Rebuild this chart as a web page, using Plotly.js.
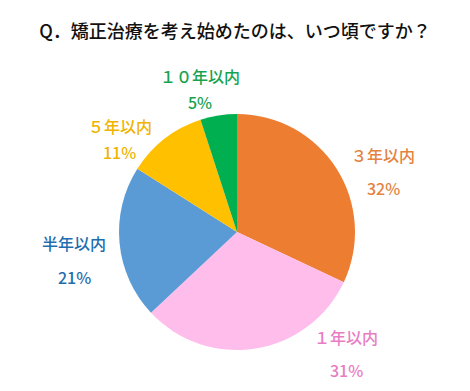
<!DOCTYPE html>
<html><head><meta charset="utf-8">
<script src="https://cdn.plot.ly/plotly-3.0.1.min.js"></script>
<style>html,body{margin:0;padding:0;background:#fff}</style>
</head><body>
<div id="chart" style="width:470px;height:391px"></div>
<script>
const categories = ["３年以内", "１年以内", "半年以内", "５年以内", "１０年以内"];
const values = [32, 31, 21, 11, 5];
const sliceColors = ["#ED7D31", "#FFBDEC", "#5B9BD5", "#FFC000", "#00B050"];
const textColors = ["#E3833F", "#E87DC4", "#1F6DAE", "#F0B400", "#16A34F"];
const labelPos = [[383, 155, 188], [346, 337, 370], [74, 243, 277], [120, 126, 152], [200, 76, 102]];

const W = 470, H = 391;
const annotations = [];
categories.forEach((c, i) => {
  const [x, y1, y2] = labelPos[i];
  const font = {family: "Noto Sans CJK JP", size: 16, color: textColors[i], weight: 500};
  annotations.push({text: c, x: x / W, y: 1 - y1 / H, xref: "paper", yref: "paper",
    xanchor: "center", yanchor: "middle", showarrow: false, font: font});
  annotations.push({text: values[i] + "%", x: x / W, y: 1 - y2 / H, xref: "paper", yref: "paper",
    xanchor: "center", yanchor: "middle", showarrow: false, font: font});
});

Plotly.newPlot("chart", [{
  type: "pie",
  labels: categories,
  values: values,
  sort: false,
  direction: "clockwise",
  rotation: 0,
  marker: {colors: sliceColors, line: {width: 0}},
  textinfo: "none",
  hoverinfo: "none",
  domain: {x: [(237 - 118) / W, (237 + 118) / W], y: [1 - 350 / H, 1 - 114 / H]}
}], {
  width: W, height: H,
  margin: {l: 0, r: 0, t: 0, b: 0},
  showlegend: false,
  paper_bgcolor: "#ffffff",
  title: {text: "Q．矯正治療を考え始めたのは、いつ頃ですか？", x: 0.5, xanchor: "center", y: 1 - 32 / H, yanchor: "middle",
    font: {family: "Noto Sans CJK JP", size: 18, color: "#111111", weight: 500}},
  annotations: annotations
}, {displayModeBar: false, staticPlot: true});
</script>
</body></html>
